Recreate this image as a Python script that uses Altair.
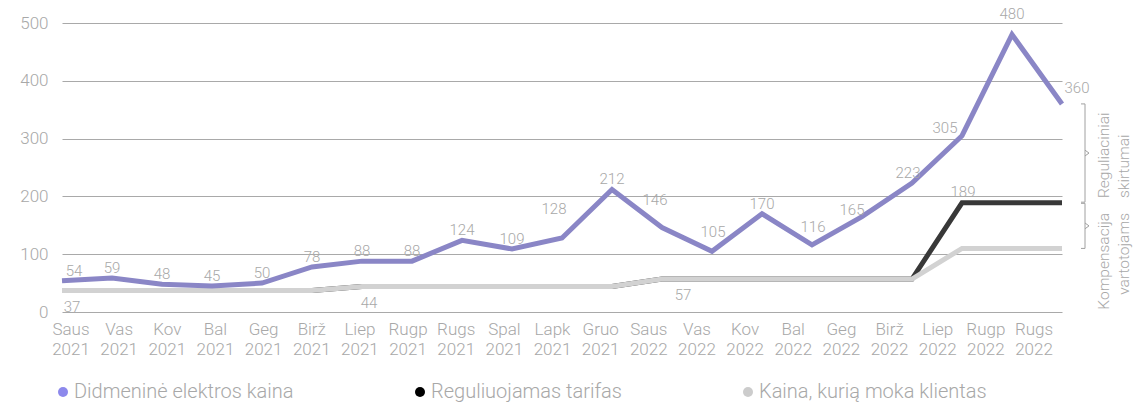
import altair as alt
import pandas as pd

# Months on the category axis
months = [
    "Saus 2021", "Vas 2021", "Kov 2021", "Bal 2021", "Geg 2021", "Birž 2021",
    "Liep 2021", "Rugp 2021", "Rugs 2021", "Spal 2021", "Lapk 2021", "Gruo 2021",
    "Saus 2022", "Vas 2022", "Kov 2022", "Bal 2022", "Geg 2022", "Birž 2022",
    "Liep 2022", "Rugp 2022", "Rugs 2022",
]

# Series values (EUR/MWh)
wholesale = [54, 59, 48, 45, 50, 78, 88, 88, 124, 109, 128, 212,
             146, 105, 170, 116, 165, 223, 305, 480, 360]
regulated = [37, 37, 37, 37, 37, 37, 44, 44, 44, 44, 44, 44,
             57, 57, 57, 57, 57, 57, 189, 189, 189]
client = [37, 37, 37, 37, 37, 37, 44, 44, 44, 44, 44, 44,
          57, 57, 57, 57, 57, 57, 110, 110, 110]

series_names = ["Didmeninė elektros kaina", "Reguliuojamas tarifas",
                "Kaina, kurią moka klientas"]
series_colors = ["#8a86c6", "#383838", "#d2d2d2"]
legend_colors = ["#8d89ec", "#000000", "#cccccc"]

# Which points get a value label
regulated_labelled = ["Liep 2022"]
client_labelled = ["Saus 2021", "Liep 2021", "Saus 2022"]

annot_top = "Reguliaciniai skirtumai"
annot_bottom = "Kompensacija vartotojams"

# ---- layout / style ----
W, H = 1010, 289
FONT = "Roboto"
TEXT_GREY = "#a8a8a8"
GRID_GREY = "#a9a9a9"

# Label nudges (dx, dy) in pixels for the wholesale price labels
wholesale_nudge = {
    "Saus 2021": (12, 0), "Lapk 2021": (-8, -19), "Saus 2022": (-7, -18),
    "Vas 2022": (1, -9), "Bal 2022": (1, -8), "Geg 2022": (-10, 3),
    "Birž 2022": (-4, 0), "Liep 2022": (-17, 2), "Rugp 2022": (0, -11),
    "Rugs 2022": (15, -6),
}
client_nudge = {"Saus 2021": 10, "Liep 2021": 7, "Saus 2022": 21}

yscale = alt.Scale(domain=[0, 500], nice=False, zero=True)
yaxis = alt.Axis(values=[0, 100, 200, 300, 400, 500], title=None, grid=True,
                 gridColor=GRID_GREY, gridWidth=1, domain=False, ticks=False,
                 labelFont=FONT, labelFontWeight=300, labelFontSize=17,
                 labelColor=TEXT_GREY, labelPadding=11)


def yenc(field):
    return alt.Y(field, scale=yscale, axis=yaxis)


def xpts():
    return alt.X("month:N", axis=None,
                 scale=alt.Scale(type="point", domain=months,
                                 range=[3, W - 7], padding=0))


frames = {
    series_names[0]: wholesale,
    series_names[1]: regulated,
    series_names[2]: client,
}


def series_df(name):
    return pd.DataFrame({"month": months, "value": frames[name], "series": name})


def line_layer(i):
    name = series_names[i]
    return alt.Chart(series_df(name)).mark_line(
        strokeWidth=5, color=series_colors[i]
    ).encode(x=xpts(), y=yenc("value:Q"))


lines = [line_layer(1), line_layer(2), line_layer(0)]

# Value labels
w_lab = series_df(series_names[0])
w_lab["dx"] = [wholesale_nudge.get(m, (0, 0))[0] for m in months]
w_lab["dy"] = [wholesale_nudge.get(m, (0, 0))[1] - 5 for m in months]

r_lab = series_df(series_names[1])
r_lab = r_lab[r_lab["month"].isin(regulated_labelled)]

c_lab = series_df(series_names[2])
c_lab = c_lab[c_lab["month"].isin(client_labelled)].copy()
c_lab["dx"] = [client_nudge[m] for m in c_lab["month"]]

text_style = dict(font=FONT, fontWeight=300, fontSize=15, color=TEXT_GREY,
                  baseline="alphabetic", align="center")

w_text = alt.Chart(w_lab).mark_text(
    dx=alt.ExprRef(expr="datum.dx"), dy=alt.ExprRef(expr="datum.dy"), **text_style
).encode(x=xpts(), y=yenc("value:Q"), text="value:Q")

r_text = alt.Chart(r_lab).mark_text(dx=1, dy=-6, **text_style).encode(
    x=xpts(), y=yenc("value:Q"), text="value:Q")

c_text = alt.Chart(c_lab).mark_text(
    dx=alt.ExprRef(expr="datum.dx"), dy=21, **text_style
).encode(x=xpts(), y=yenc("value:Q"), text="value:Q")

# Category labels under the plot
x_labels = alt.Chart(pd.DataFrame({"month": months})).mark_text(
    font=FONT, fontWeight=300, fontSize=17, color=TEXT_GREY, lineBreak=" ",
    lineHeight=20, baseline="alphabetic", align="center",
).encode(
    x=alt.X("month:N", axis=None,
            scale=alt.Scale(type="point", domain=months, range=[12, 975], padding=0)),
    y=alt.value(H + 23),
    text="month:N",
)

# Curly braces marking the gaps at the last month
top_v, mid_v, low_v = wholesale[-1], regulated[-1], client[-1]
DELTA = 5
braces = pd.DataFrame({
    "top": [top_v, mid_v - 1],
    "bottom": [mid_v + 1, low_v],
})
braces["mid"] = (braces["top"] + braces["bottom"]) / 2
braces["mid_hi"] = braces["mid"] + DELTA
braces["mid_lo"] = braces["mid"] - DELTA

BX = W + 16
rule_style = dict(color="#a0a0a0", strokeWidth=1)
brace_vert = alt.Chart(braces).mark_rule(**rule_style).encode(
    x=alt.value(BX), y=yenc("top:Q"), y2="bottom:Q")
brace_hook_top = alt.Chart(braces).mark_rule(**rule_style).encode(
    x=alt.value(BX - 4), x2=alt.value(BX), y=yenc("top:Q"))
brace_hook_bot = alt.Chart(braces).mark_rule(**rule_style).encode(
    x=alt.value(BX - 4), x2=alt.value(BX), y=yenc("bottom:Q"))
brace_tip_a = alt.Chart(braces).mark_rule(**rule_style).encode(
    x=alt.value(BX), x2=alt.value(BX + 4), y=yenc("mid_hi:Q"), y2="mid:Q")
brace_tip_b = alt.Chart(braces).mark_rule(**rule_style).encode(
    x=alt.value(BX), x2=alt.value(BX + 4), y=yenc("mid_lo:Q"), y2="mid:Q")

annot_style = dict(font=FONT, fontWeight=300, fontSize=15.5, color=TEXT_GREY,
                   angle=270, lineBreak=" ", lineHeight=20, baseline="top")
annot1 = alt.Chart(pd.DataFrame({"t": [annot_top]})).mark_text(
    align="left", **annot_style).encode(
    x=alt.value(W + 28), y=alt.value(175), text="t:N")
annot2 = alt.Chart(pd.DataFrame({"t": [annot_bottom]})).mark_text(
    align="right", **annot_style).encode(
    x=alt.value(W + 28), y=alt.value(190), text="t:N")

# Legend carrier: draws nothing itself, only the colour legend with round symbols
legend_layer = alt.Chart(pd.DataFrame({"series": series_names})).mark_circle(
    size=100).encode(
    color=alt.Color("series:N",
                    scale=alt.Scale(domain=series_names, range=legend_colors),
                    legend=alt.Legend(
                        title=None, orient="none", legendX=-6, legendY=359,
                        direction="horizontal", columnPadding=116, labelOffset=1,
                        symbolType="circle", symbolSize=100, symbolStrokeWidth=0,
                        symbolOpacity=1, labelFont=FONT, labelFontWeight=300,
                        labelFontSize=20, labelColor=TEXT_GREY, labelLimit=600,
                        padding=0,
                    ))
).transform_filter("false")

chart = alt.layer(
    *lines, w_text, r_text, c_text, x_labels,
    brace_vert, brace_hook_top, brace_hook_bot, brace_tip_a, brace_tip_b,
    annot1, annot2, legend_layer,
).resolve_scale(x="independent").properties(
    width=W, height=H,
    autosize=alt.AutoSizeParams(type="none"),
    padding={"left": 59, "top": 23, "right": 1148 - 59 - W, "bottom": 403 - 23 - H},
).configure_view(stroke=None)

chart.save("out.html", embed_options={"renderer": "svg", "actions": False})
